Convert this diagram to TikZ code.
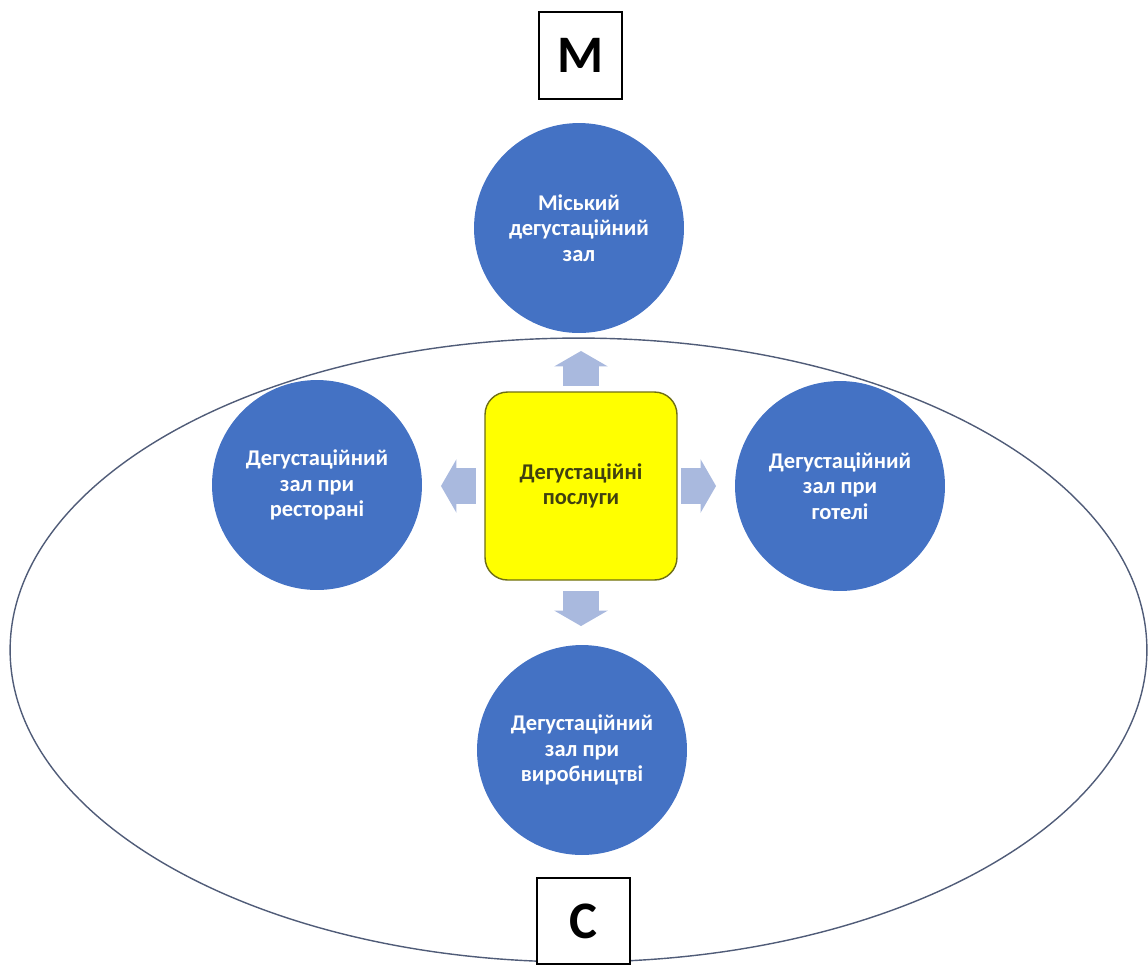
\documentclass[tikz,border=0pt]{standalone}
\usepackage{fontspec}
\setmainfont{Carlito}
\usepackage{tikz}
\usetikzlibrary{shapes.geometric, shapes.arrows, positioning}
\definecolor{sinij}{RGB}{68,114,196}
\definecolor{blidyj}{RGB}{169,185,222}
\definecolor{zhovtyj}{RGB}{255,255,0}
\definecolor{olyvka}{RGB}{110,110,20}
\definecolor{tekstzh}{RGB}{64,64,16}
\definecolor{kontur}{RGB}{80,92,120}
\tikzset{
    zal/.style={circle, fill=sinij, minimum size=4.2cm, inner sep=0pt,
        align=center, text=white, font=\fontsize{12.8}{14.5}\selectfont\bfseries},
    poslugy/.style={rectangle, rounded corners=0.45cm, draw=olyvka, line width=0.8pt,
        fill=zhovtyj, minimum width=3.84cm, minimum height=3.76cm,
        align=center, text=tekstzh, font=\fontsize{12.8}{14.5}\selectfont\bfseries},
    strilka/.style={single arrow, fill=blidyj, draw=none,
        inner xsep=0pt, inner ysep=0.35cm, minimum height=0.7cm,
        single arrow head extend=0.18cm, single arrow tip angle=120, anchor=tail},
    vertyk/.style={inner xsep=0.35cm, inner ysep=0pt},
    litera/.style={rectangle, draw=black, line width=0.9pt, fill=white,
        font=\fontsize{30}{30}\selectfont\bfseries},
    oval/.style={ellipse, draw=kontur, line width=0.8pt, inner sep=0pt}}

\begin{document}
\begin{tikzpicture}[x=0.02cm, y=-0.02cm]
    \useasboundingbox (0,0) rectangle (1148,965);
    % велике коло
    \node (oval) [oval, minimum width=22.74cm, minimum height=12.48cm] at (578.5,650) {};
    % центр
    \node (centr) [poslugy] at (581,486) {Дегустаційні\\послуги};
    % зали
    \node (misto) [zal] at (579,228) {Міський\\дегустаційний\\зал};
    \node (restoran) [zal] at (317,485) {Дегустаційний\\зал при\\ресторані};
    \node (hotel) [zal] at (840,486) {Дегустаційний\\зал при\\готелі};
    \node (vyrobn) [zal] at (582,750) {Дегустаційний\\зал при\\виробництві};
    % стрілки
    \node (s1) [strilka, vertyk, shape border rotate=90] at ([yshift=0.1cm]centr.north) {};
    \node (s2) [strilka, shape border rotate=180] at ([xshift=-0.16cm]centr.west) {};
    \node (s3) [strilka] at ([xshift=0.06cm]centr.east) {};
    \node (s4) [strilka, vertyk, shape border rotate=270] at ([yshift=-0.2cm]centr.south) {};
    % літери
    \node (m) [litera, minimum width=1.66cm, minimum height=1.74cm] at (580.5,55.5) {М};
    \node (c) [litera, minimum width=1.86cm, minimum height=1.72cm] at (583.5,921) {С};
\end{tikzpicture}
\end{document}
